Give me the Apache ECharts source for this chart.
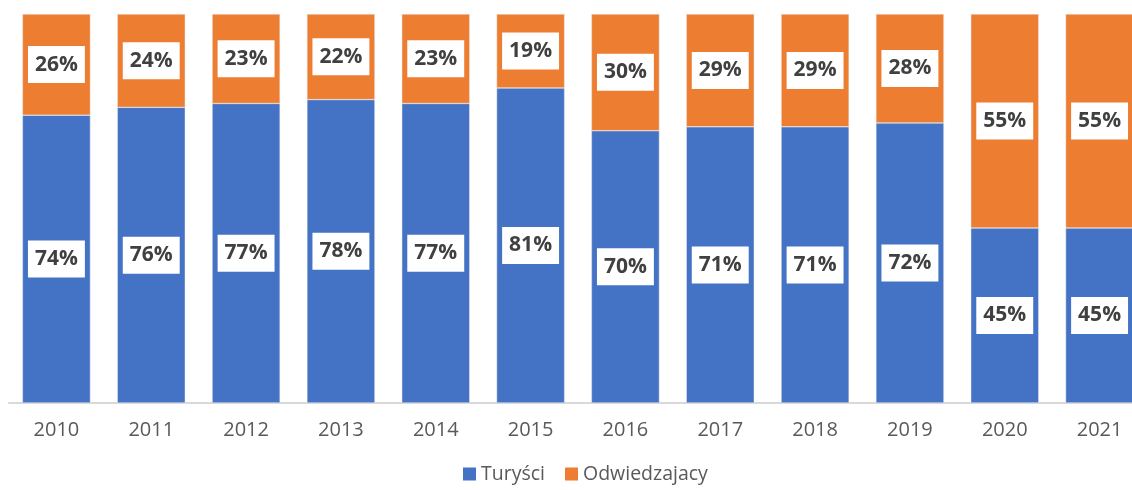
<!DOCTYPE html>
<html>
<head>
<meta charset="utf-8">
<script src="https://cdn.jsdelivr.net/npm/echarts@6/dist/echarts.min.js"></script>
<style>html,body{margin:0;padding:0;background:#fff}#c{width:1132px;height:490px}</style>
</head>
<body>
<div id="c"></div>
<script>
const categories = ['2010','2011','2012','2013','2014','2015','2016','2017','2018','2019','2020','2021'];
const turysci = [74,76,77,78,77,81,70,71,71,72,45,45];
const odwiedzajacy = [26,24,23,22,23,19,30,29,29,28,55,55];
const seriesNames = ['Turyści','Odwiedzajacy'];

const chart = echarts.init(document.getElementById('c'));
const labelStyle = {
  show: true,
  position: 'inside',
  formatter: '{c}%',
  fontFamily: 'Open Sans',
  fontWeight: 'bold',
  fontSize: 21,
  color: '#404040',
  backgroundColor: '#ffffff',
  padding: [7, 7, 7, 7],
  lineHeight: 23
};
chart.setOption({
  animation: false,
  grid: { left: 9, width: 1138, top: 14, bottom: 87, containLabel: false, outerBoundsMode: 'none' },
  legend: {
    data: seriesNames,
    bottom: 1,
    left: 458,
    icon: 'rect',
    itemWidth: 13,
    itemHeight: 13,
    itemGap: 20,
    itemStyle: { borderWidth: 0 },
    textStyle: { fontFamily: 'Open Sans', fontSize: 19.5, color: '#595959' }
  },
  xAxis: {
    type: 'category',
    data: categories,
    axisLine: { lineStyle: { color: '#d9d9d9', width: 2 } },
    axisTick: { show: false },
    axisLabel: { fontFamily: 'Open Sans', fontSize: 20, color: '#595959', margin: 17 }
  },
  yAxis: { type: 'value', min: 0, max: 100, show: false, splitLine: { show: false } },
  series: [
    {
      name: seriesNames[0], type: 'bar', stack: 'a', data: turysci, barWidth: 68,
      itemStyle: { color: '#4472C4', borderColor: '#e8e8e8', borderWidth: 0.5 },
      label: labelStyle
    },
    {
      name: seriesNames[1], type: 'bar', stack: 'a', data: odwiedzajacy, barWidth: 68,
      itemStyle: { color: '#ED7D31', borderColor: '#e8e8e8', borderWidth: 0.5 },
      label: labelStyle
    }
  ]
});
</script>
</body>
</html>
